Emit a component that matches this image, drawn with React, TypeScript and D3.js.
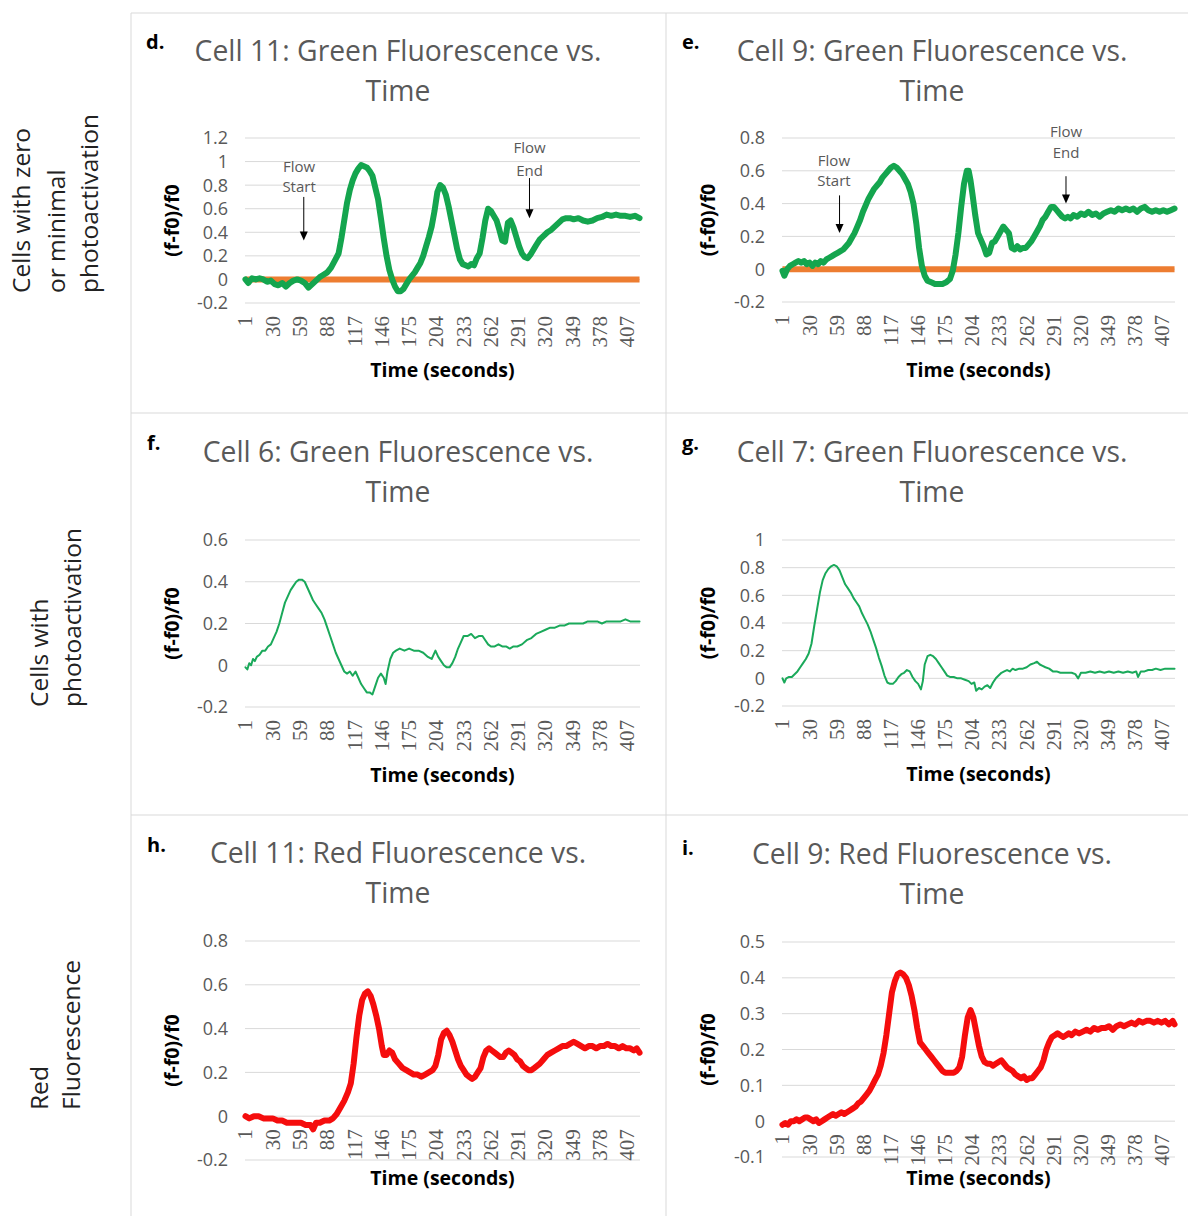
import React from 'react';
import * as d3 from 'd3';

// ---------- data ----------
const N_POINTS = 420;
const xTickLabels = [1, 30, 59, 88, 117, 146, 175, 204, 233, 262, 291, 320, 349, 378, 407];

const baselineTime = [1, 420];
const baselineValue = [0, 0];

// d. Cell 11 green
const dTime = [1,4,8,12,16,20,24,28,32,36,40,44,48,52,56,60,64,68,72,76,80,84,88,92,96,100,103,106,109,112,115,118,121,124,127,130,133,136,139,142,145,148,151,154,157,160,163,166,169,172,175,178,181,184,187,190,193,196,199,202,205,208,211,214,217,220,223,226,229,232,235,238,241,244,247,250,253,256,259,262,265,268,271,274,277,280,283,286,289,292,295,298,301,304,307,310,314,318,322,326,330,334,338,342,346,350,355,360,365,370,375,380,385,390,395,400,405,410,415,420];
const dValue = [0,-0.03,0.01,0,0.01,0,-0.02,-0.01,-0.04,-0.05,-0.03,-0.06,-0.03,-0.01,0,-0.01,-0.03,-0.07,-0.04,-0.01,0.02,0.04,0.06,0.1,0.16,0.22,0.35,0.5,0.65,0.76,0.84,0.9,0.94,0.97,0.96,0.95,0.92,0.88,0.78,0.68,0.52,0.35,0.2,0.08,0,-0.06,-0.1,-0.1,-0.08,-0.04,0,0.03,0.06,0.1,0.14,0.2,0.28,0.36,0.45,0.58,0.74,0.8,0.78,0.72,0.62,0.5,0.38,0.26,0.17,0.13,0.12,0.11,0.13,0.12,0.18,0.22,0.35,0.5,0.6,0.58,0.54,0.5,0.42,0.33,0.32,0.48,0.5,0.44,0.36,0.28,0.22,0.19,0.18,0.21,0.25,0.29,0.34,0.37,0.4,0.42,0.45,0.48,0.51,0.52,0.52,0.51,0.52,0.5,0.49,0.5,0.52,0.53,0.55,0.54,0.55,0.54,0.54,0.53,0.54,0.52];
const dYTicks = [-0.2, 0, 0.2, 0.4, 0.6, 0.8, 1, 1.2];

// e. Cell 9 green
const eTime = [1,3,6,9,12,15,18,21,24,27,30,33,36,39,42,45,48,51,54,57,60,63,66,69,72,75,78,81,84,87,90,93,96,99,102,105,108,111,114,117,120,123,126,129,132,135,138,141,144,147,150,153,156,160,164,168,172,176,180,183,186,189,192,195,198,200,202,204,207,210,213,216,219,222,225,228,231,234,237,240,243,246,249,252,255,258,261,264,267,270,273,276,279,282,285,288,291,294,297,300,303,306,309,312,316,320,324,328,332,336,340,344,348,352,356,360,364,368,372,376,380,384,388,392,396,400,404,408,412,416,420];
const eValue = [-0.01,-0.04,0,0.02,0.03,0.04,0.05,0.04,0.05,0.03,0.04,0.02,0.04,0.03,0.05,0.04,0.06,0.07,0.08,0.09,0.1,0.11,0.12,0.14,0.16,0.19,0.22,0.26,0.3,0.35,0.39,0.43,0.46,0.49,0.51,0.53,0.56,0.58,0.6,0.62,0.63,0.62,0.6,0.58,0.55,0.52,0.47,0.4,0.28,0.13,0.02,-0.04,-0.07,-0.08,-0.09,-0.09,-0.09,-0.08,-0.06,-0.01,0.09,0.22,0.38,0.52,0.6,0.6,0.54,0.46,0.33,0.22,0.18,0.14,0.09,0.1,0.16,0.17,0.2,0.23,0.26,0.24,0.22,0.13,0.12,0.14,0.12,0.13,0.13,0.15,0.17,0.2,0.23,0.26,0.3,0.32,0.35,0.38,0.38,0.36,0.34,0.32,0.31,0.32,0.31,0.33,0.32,0.34,0.33,0.35,0.33,0.34,0.32,0.34,0.35,0.36,0.35,0.37,0.36,0.37,0.36,0.37,0.35,0.37,0.38,0.36,0.35,0.36,0.35,0.36,0.35,0.36,0.37];
const eYTicks = [-0.2, 0, 0.2, 0.4, 0.6, 0.8];

// f. Cell 6 green
const fTime = [1,3,5,7,9,11,13,16,19,22,25,28,31,34,37,40,43,46,49,52,55,58,61,64,67,70,73,76,79,82,85,88,91,94,97,100,103,106,109,112,115,118,121,124,127,130,133,136,139,142,145,148,150,152,155,158,161,165,170,175,180,185,190,195,199,203,206,209,212,215,218,221,224,227,230,233,237,241,245,249,253,256,259,262,266,270,274,278,282,286,290,295,300,305,310,315,320,325,330,335,340,345,350,355,360,365,370,375,380,385,390,395,400,405,410,415,420];
const fValue = [-0.01,-0.02,0.01,0,0.03,0.02,0.04,0.05,0.07,0.07,0.09,0.1,0.13,0.16,0.2,0.25,0.3,0.33,0.36,0.38,0.4,0.41,0.41,0.4,0.37,0.34,0.31,0.29,0.27,0.25,0.22,0.18,0.14,0.1,0.06,0.03,0,-0.03,-0.04,-0.03,-0.05,-0.03,-0.06,-0.09,-0.11,-0.13,-0.13,-0.14,-0.1,-0.06,-0.04,-0.06,-0.09,-0.03,0.03,0.06,0.07,0.08,0.07,0.08,0.07,0.07,0.06,0.04,0.03,0.07,0.04,0.02,0,-0.01,-0.01,0.01,0.04,0.08,0.11,0.14,0.14,0.15,0.13,0.14,0.14,0.12,0.1,0.09,0.09,0.1,0.09,0.09,0.08,0.09,0.09,0.1,0.12,0.13,0.15,0.16,0.17,0.18,0.18,0.19,0.19,0.2,0.2,0.2,0.2,0.21,0.21,0.21,0.2,0.21,0.21,0.21,0.21,0.22,0.21,0.21,0.21];
const fYTicks = [-0.2, 0, 0.2, 0.4, 0.6];

// g. Cell 7 green
const gTime = [1,3,5,8,11,14,17,20,23,26,29,32,35,38,41,44,47,50,53,56,59,62,65,68,71,74,77,80,83,86,89,92,95,98,101,104,107,110,113,116,119,122,125,128,131,134,137,140,143,146,149,151,153,156,159,162,165,168,171,174,177,180,184,188,192,196,200,203,206,208,211,214,217,220,223,226,229,232,235,238,241,244,247,250,254,258,262,266,270,273,276,279,282,286,290,294,298,302,306,310,314,317,320,325,330,335,340,345,350,355,360,365,370,375,379,381,384,388,392,396,400,405,410,415,420];
const gValue = [0,-0.03,0,0.01,0.01,0.03,0.05,0.08,0.11,0.14,0.18,0.25,0.38,0.5,0.62,0.71,0.76,0.79,0.81,0.82,0.81,0.78,0.73,0.68,0.65,0.62,0.58,0.55,0.52,0.47,0.43,0.39,0.34,0.28,0.22,0.15,0.09,0.02,-0.03,-0.04,-0.04,-0.02,0.01,0.03,0.04,0.06,0.05,0.01,-0.02,-0.04,-0.08,-0.02,0.1,0.16,0.17,0.16,0.14,0.11,0.08,0.05,0.02,0.01,0.01,0,0,-0.01,-0.02,-0.04,-0.03,-0.09,-0.07,-0.08,-0.06,-0.05,-0.07,-0.03,0,0.02,0.04,0.05,0.06,0.05,0.07,0.06,0.07,0.07,0.08,0.1,0.11,0.12,0.1,0.09,0.08,0.07,0.05,0.05,0.04,0.04,0.04,0.04,0.03,0,0.04,0.04,0.05,0.04,0.05,0.04,0.05,0.04,0.05,0.04,0.05,0.04,0.05,0.01,0.05,0.05,0.06,0.06,0.07,0.06,0.07,0.07,0.07];
const gYTicks = [-0.2, 0, 0.2, 0.4, 0.6, 0.8, 1];

// h. Cell 11 red
const hTime = [1,5,10,15,20,25,30,35,40,45,50,55,60,65,70,73,76,80,85,90,94,98,102,106,110,113,116,119,122,125,128,131,134,137,140,143,146,148,151,154,157,160,164,168,172,176,180,184,188,192,196,200,203,206,209,212,215,218,221,224,227,230,233,236,239,242,245,248,251,254,257,260,263,266,269,272,275,278,281,284,287,290,293,296,299,302,305,308,311,314,318,322,326,330,334,338,342,346,350,354,358,362,366,370,374,378,382,386,390,394,398,402,406,410,414,417,420];
const hValue = [0,-0.01,0,0,-0.01,-0.01,-0.01,-0.02,-0.02,-0.03,-0.03,-0.03,-0.03,-0.04,-0.04,-0.06,-0.03,-0.03,-0.02,-0.02,-0.01,0.01,0.04,0.07,0.11,0.15,0.24,0.36,0.46,0.53,0.56,0.57,0.55,0.51,0.46,0.4,0.32,0.28,0.28,0.3,0.29,0.26,0.24,0.22,0.21,0.2,0.19,0.19,0.18,0.19,0.2,0.21,0.23,0.28,0.35,0.38,0.39,0.37,0.34,0.3,0.26,0.23,0.21,0.19,0.18,0.17,0.18,0.2,0.22,0.27,0.3,0.31,0.3,0.29,0.28,0.27,0.27,0.29,0.3,0.29,0.28,0.26,0.25,0.23,0.22,0.21,0.21,0.22,0.23,0.24,0.26,0.28,0.29,0.3,0.31,0.32,0.32,0.33,0.34,0.33,0.32,0.31,0.32,0.32,0.31,0.32,0.32,0.33,0.32,0.32,0.31,0.32,0.31,0.31,0.3,0.31,0.29];
const hYTicks = [-0.2, 0, 0.2, 0.4, 0.6, 0.8];

// i. Cell 9 red
const iTime = [1,4,7,10,13,16,19,22,25,28,31,34,37,40,43,46,49,52,55,58,61,64,67,70,73,76,79,82,85,88,91,94,97,100,103,106,109,112,115,118,121,124,127,130,133,136,139,142,145,148,151,154,157,160,163,166,169,172,175,178,181,184,187,190,193,196,199,202,205,208,211,214,217,220,223,226,229,232,235,238,241,244,247,250,253,256,259,262,265,268,271,274,277,280,283,286,289,292,295,298,301,304,307,310,314,318,322,326,330,334,338,342,346,350,354,358,362,366,370,374,378,382,386,390,394,398,402,406,410,414,418,420];
const iValue = [-0.01,-0.005,-0.01,0,0,0.005,0,0.005,0.01,0.01,0.005,0,0.005,-0.005,0,0.005,0.01,0.015,0.02,0.015,0.02,0.025,0.02,0.025,0.03,0.035,0.04,0.05,0.055,0.065,0.075,0.085,0.1,0.115,0.13,0.155,0.19,0.24,0.3,0.36,0.39,0.41,0.415,0.41,0.4,0.38,0.35,0.31,0.26,0.22,0.21,0.2,0.19,0.18,0.17,0.16,0.15,0.14,0.135,0.135,0.135,0.135,0.14,0.15,0.18,0.24,0.29,0.31,0.29,0.25,0.21,0.18,0.165,0.16,0.16,0.155,0.16,0.165,0.17,0.16,0.15,0.145,0.14,0.13,0.125,0.12,0.125,0.115,0.12,0.12,0.13,0.14,0.15,0.17,0.2,0.22,0.235,0.24,0.245,0.24,0.235,0.24,0.245,0.24,0.25,0.245,0.25,0.255,0.25,0.26,0.255,0.26,0.26,0.265,0.255,0.265,0.27,0.265,0.27,0.275,0.27,0.28,0.275,0.28,0.28,0.275,0.28,0.275,0.28,0.27,0.28,0.27];
const iYTicks = [-0.1, 0, 0.1, 0.2, 0.3, 0.4, 0.5];

// ---------- styles ----------
const GRID = '#d9d9d9';
const TEXT_GRAY = '#595959';
const GREEN = '#14a54e';
const GREEN_THIN = '#1aa95a';
const ORANGE = '#ed7d31';
const RED = '#f50d0d';
const FONT = '"Open Sans", "DejaVu Sans", sans-serif';
const SERIF = '"Liberation Serif", "DejaVu Serif", serif';

type Annot = { lines: string[]; t: number; textT: number; textV: number[]; from: number; to: number };

type PanelCfg = {
  letter: string;
  title: string[];
  x0: number; x1: number; yTop: number; yBot: number;
  domain: [number, number];
  ticks: number[];
  time: number[]; value: number[];
  color: string; width: number;
  baseline: boolean;
  labelsAtZero: boolean;
  titleX: number; titleY: number;
  letterX: number; letterY: number;
  yTitleX: number;
  xTitleY: number;
  annots: Annot[];
};

const panels: PanelCfg[] = [
  { letter: 'd.', title: ['Cell 11: Green Fluorescence vs.', 'Time'], x0: 245, x1: 640, yTop: 138, yBot: 303,
    domain: [-0.2, 1.2], ticks: dYTicks, time: dTime, value: dValue, color: GREEN, width: 6, baseline: true,
    labelsAtZero: false, titleX: 398, titleY: 61, letterX: 146, letterY: 49, yTitleX: 179, xTitleY: 377,
    annots: [
      { lines: ['Flow', 'Start'], t: 63, textT: 58, textV: [0.91, 0.74], from: 0.70, to: 0.33 },
      { lines: ['Flow', 'End'], t: 303, textT: 303, textV: [1.07, 0.88], from: 0.86, to: 0.52 },
    ] },
  { letter: 'e.', title: ['Cell 9: Green Fluorescence vs.', 'Time'], x0: 782, x1: 1175, yTop: 138, yBot: 302,
    domain: [-0.2, 0.8], ticks: eYTicks, time: eTime, value: eValue, color: GREEN, width: 6, baseline: true,
    labelsAtZero: false, titleX: 932, titleY: 61, letterX: 682, letterY: 49, yTitleX: 715, xTitleY: 377,
    annots: [
      { lines: ['Flow', 'Start'], t: 62, textT: 56, textV: [0.63, 0.505], from: 0.45, to: 0.22 },
      { lines: ['Flow', 'End'], t: 304, textT: 304, textV: [0.805, 0.677], from: 0.567, to: 0.40 },
    ] },
  { letter: 'f.', title: ['Cell 6: Green Fluorescence vs.', 'Time'], x0: 245, x1: 640, yTop: 540, yBot: 707,
    domain: [-0.2, 0.6], ticks: fYTicks, time: fTime, value: fValue, color: GREEN_THIN, width: 2, baseline: false,
    labelsAtZero: false, titleX: 398, titleY: 462, letterX: 147, letterY: 450, yTitleX: 179, xTitleY: 782, annots: [] },
  { letter: 'g.', title: ['Cell 7: Green Fluorescence vs.', 'Time'], x0: 782, x1: 1175, yTop: 540, yBot: 706,
    domain: [-0.2, 1], ticks: gYTicks, time: gTime, value: gValue, color: GREEN_THIN, width: 2, baseline: false,
    labelsAtZero: false, titleX: 932, titleY: 462, letterX: 682, letterY: 450, yTitleX: 715, xTitleY: 781, annots: [] },
  { letter: 'h.', title: ['Cell 11: Red Fluorescence vs.', 'Time'], x0: 245, x1: 640, yTop: 941, yBot: 1160,
    domain: [-0.2, 0.8], ticks: hYTicks, time: hTime, value: hValue, color: RED, width: 6, baseline: false,
    labelsAtZero: true, titleX: 398, titleY: 863, letterX: 147, letterY: 852, yTitleX: 179, xTitleY: 1185, annots: [] },
  { letter: 'i.', title: ['Cell 9: Red Fluorescence vs.', 'Time'], x0: 782, x1: 1175, yTop: 942, yBot: 1157,
    domain: [-0.1, 0.5], ticks: iYTicks, time: iTime, value: iValue, color: RED, width: 6, baseline: false,
    labelsAtZero: true, titleX: 932, titleY: 864, letterX: 682, letterY: 855, yTitleX: 715, xTitleY: 1185, annots: [] },
];

const rowLabels = [
  { lines: ['Cells with zero', 'or minimal', 'photoactivation'], xs: [30, 65, 98], yStart: 293 },
  { lines: ['Cells with', 'photoactivation'], xs: [48, 81], yStart: 707 },
  { lines: ['Red', 'Fluorescence'], xs: [48, 80], yStart: 1110 },
];

const fmt = (v: number) => String(+v.toFixed(2));

function Panel({ cfg }: { cfg: PanelCfg }) {
  const x = d3.scaleLinear().domain([0.5, N_POINTS + 0.5]).range([cfg.x0, cfg.x1]);
  const y = d3.scaleLinear().domain(cfg.domain).range([cfg.yBot, cfg.yTop]);
  const line = d3.line<number>().x((_, i) => x(cfg.time[i])).y((v) => y(v));
  const baseLine = d3.line<number>().x((_, i) => x(baselineTime[i])).y((v) => y(v));
  const labelTop = cfg.labelsAtZero ? y(0) + 13 : cfg.yBot + 13;
  const plotMid = (cfg.x0 + cfg.x1) / 2;
  return (
    <g>
      <text x={cfg.letterX} y={cfg.letterY} fontFamily={FONT} fontWeight="bold" fontSize={20} fill="#000">{cfg.letter}</text>
      {cfg.title.map((t, i) => (
        <text key={i} x={cfg.titleX} y={cfg.titleY + i * 40} textAnchor="middle" fontFamily={FONT} fontSize={28.3} fill={TEXT_GRAY}>{t}</text>
      ))}
      {cfg.ticks.map((v) => (
        <g key={v}>
          <line x1={cfg.x0} x2={cfg.x1} y1={y(v)} y2={y(v)} stroke={GRID} strokeWidth={1} />
          <text x={cfg.x0 - 17} y={y(v)} dy="0.36em" textAnchor="end" fontFamily={FONT} fontSize={18} fill={TEXT_GRAY}>{fmt(v)}</text>
        </g>
      ))}
      {xTickLabels.map((t) => (
        <text key={t} transform={`translate(${x(t)},${labelTop}) rotate(-90)`} dy="0.33em" textAnchor="end"
          fontFamily={SERIF} fontSize={21} fill={TEXT_GRAY}>{t}</text>
      ))}
      {cfg.baseline && (
        <path d={baseLine(baselineValue) || ''} fill="none" stroke={ORANGE} strokeWidth={6} />
      )}
      <path d={line(cfg.value) || ''} fill="none" stroke={cfg.color} strokeWidth={cfg.width} strokeLinejoin="round" strokeLinecap="round" />
      {cfg.annots.map((a, i) => (
        <g key={i}>
          {a.lines.map((l, j) => (
            <text key={j} x={x(a.textT)} y={y(a.textV[j])} textAnchor="middle" fontFamily={FONT} fontSize={15} fill={TEXT_GRAY}>{l}</text>
          ))}
          <line x1={x(a.t)} x2={x(a.t)} y1={y(a.from)} y2={y(a.to) - 8} stroke="#000" strokeWidth={1} />
          <path d={`M${x(a.t) - 4},${y(a.to) - 9}L${x(a.t) + 4},${y(a.to) - 9}L${x(a.t)},${y(a.to)}Z`} fill="#000" />
        </g>
      ))}
      <text transform={`translate(${cfg.yTitleX},${(cfg.yTop + cfg.yBot) / 2}) rotate(-90)`} textAnchor="middle"
        fontFamily={FONT} fontWeight="bold" fontSize={19.5} fill="#000">(f-f0)/f0</text>
      <text x={plotMid} y={cfg.xTitleY} textAnchor="middle" fontFamily={FONT} fontWeight="bold" fontSize={19.5} fill="#000">Time (seconds)</text>
    </g>
  );
}

export default function App() {
  return (
    <svg width={1188} height={1216} style={{ position: 'absolute', left: 0, top: 0, background: '#fff' }}>
      <rect x={0} y={0} width={1188} height={1216} fill="#fff" />
      <line x1={131} x2={131} y1={13} y2={1216} stroke={GRID} />
      <line x1={666} x2={666} y1={13} y2={1216} stroke={GRID} />
      {[13, 413, 815].map((yy) => (
        <line key={yy} x1={131} x2={1188} y1={yy} y2={yy} stroke={GRID} />
      ))}
      {rowLabels.map((r, i) => (
        <g key={i}>
          {r.lines.map((l, j) => (
            <text key={j} transform={`translate(${r.xs[j]},${r.yStart}) rotate(-90)`} textAnchor="start"
              fontFamily={FONT} fontSize={24.5} fill="#222">{l}</text>
          ))}
        </g>
      ))}
      {panels.map((p, i) => <Panel key={i} cfg={p} />)}
    </svg>
  );
}
